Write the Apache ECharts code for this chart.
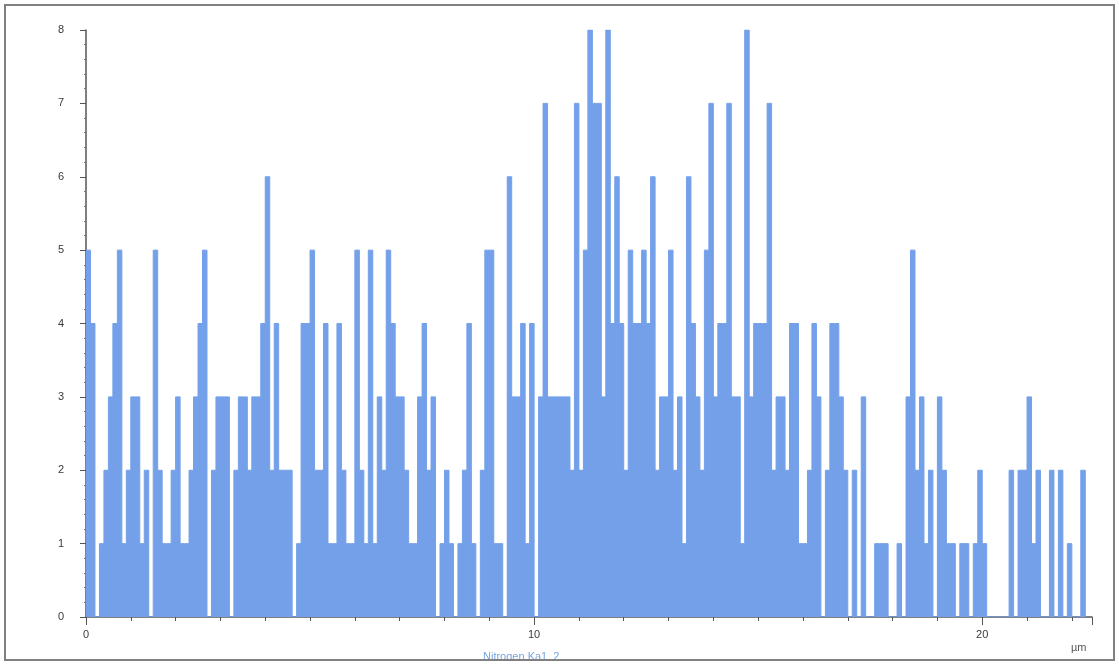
<!DOCTYPE html>
<html>
<head>
<meta charset="utf-8">
<script src="https://cdn.jsdelivr.net/npm/echarts@6/dist/echarts.min.js"></script>
<style>
  html, body { margin: 0; padding: 0; background: #ffffff; }
  #chart { width: 1119px; height: 664px; }
</style>
</head>
<body>
<div id="chart"></div>
<script>
// line scan counts, one per 0.1 µm bin starting at 0 µm
const binWidth = 0.1
const counts = [
  5, 4, 0, 1, 2, 3, 4, 5, 1, 2,
  3, 3, 1, 2, 0, 5, 2, 1, 1, 2,
  3, 1, 1, 2, 3, 4, 5, 0, 2, 3,
  3, 3, 0, 2, 3, 3, 2, 3, 3, 4,
  6, 2, 4, 2, 2, 2, 0, 1, 4, 4,
  5, 2, 2, 4, 1, 1, 4, 2, 1, 1,
  5, 2, 1, 5, 1, 3, 2, 5, 4, 3,
  3, 2, 1, 1, 3, 4, 2, 3, 0, 1,
  2, 1, 0, 1, 2, 4, 1, 0, 2, 5,
  5, 1, 1, 0, 6, 3, 3, 4, 1, 4,
  0, 3, 7, 3, 3, 3, 3, 3, 2, 7,
  2, 5, 8, 7, 7, 3, 8, 4, 6, 4,
  2, 5, 4, 4, 5, 4, 6, 2, 3, 3,
  5, 2, 3, 1, 6, 4, 3, 2, 5, 7,
  3, 4, 4, 7, 3, 3, 1, 8, 3, 4,
  4, 4, 7, 2, 3, 3, 2, 4, 4, 1,
  1, 2, 4, 3, 0, 2, 4, 4, 3, 2,
  0, 2, 0, 3, 0, 0, 1, 1, 1, 0,
  0, 1, 0, 3, 5, 2, 3, 1, 2, 0,
  3, 2, 1, 1, 0, 1, 1, 0, 1, 2,
  1, 0, 0, 0, 0, 0, 2, 0, 2, 2,
  3, 1, 2, 0, 0, 2, 0, 2, 0, 1,
  0, 0, 2
]
const yTicks = [0, 1, 2, 3, 4, 5, 6, 7, 8]
const xTickStep = 10
const xMax = 22.45
const unitLabel = 'µm'
const elementLabel = 'Nitrogen Ka1_2'

const seriesData = counts.map((v, i) => [+(i * binWidth).toFixed(2), v])
seriesData.push([+(counts.length * binWidth).toFixed(2), 0])

const fill = '#74a0ea'
const axisColor = '#555'
const labelFont = { color: '#3a3a3a', fontSize: 11, fontFamily: 'Liberation Sans, Arial, sans-serif' }

const chart = echarts.init(document.getElementById('chart'))
chart.setOption({
  animation: false,
  backgroundColor: '#ffffff',
  grid: { left: 86, right: 27, top: 30, bottom: 47, containLabel: false },
  xAxis: {
    type: 'value',
    min: 0,
    max: xMax,
    interval: xTickStep,
    axisLine: { show: true, lineStyle: { color: axisColor, width: 1.5 } },
    axisTick: { show: true, length: 8, lineStyle: { color: axisColor } },
    minorTick: { show: true, splitNumber: 10, length: 4, lineStyle: { color: axisColor } },
    splitLine: { show: false },
    axisLabel: Object.assign({ margin: 12, showMaxLabel: false }, labelFont)
  },
  yAxis: {
    type: 'value',
    min: yTicks[0],
    max: yTicks[yTicks.length - 1],
    interval: 1,
    axisLine: { show: true, lineStyle: { color: axisColor, width: 1.5 } },
    axisTick: { show: true, length: 6, lineStyle: { color: axisColor } },
    minorTick: { show: true, splitNumber: 5, length: 2, lineStyle: { color: '#777' } },
    splitLine: { show: false },
    axisLabel: Object.assign({ margin: 22 }, labelFont)
  },
  series: [
    {
      type: 'line',
      step: 'end',
      data: seriesData,
      showSymbol: false,
      symbol: 'none',
      lineStyle: { color: fill, width: 1 },
      areaStyle: { color: fill, opacity: 1 },
      silent: true
    }
  ],
  graphic: [
    {
      type: 'text',
      left: 1071,
      top: 642,
      style: { text: unitLabel, fill: '#555', font: '11px Liberation Sans, Arial, sans-serif' },
      z: 10
    },
    {
      type: 'text',
      left: 483,
      top: 651,
      style: { text: elementLabel, fill: '#7aa3e0', font: '11px Liberation Sans, Arial, sans-serif' },
      z: 10
    },
    {
      type: 'rect',
      shape: { x: 0, y: 661, width: 1119, height: 3 },
      style: { fill: '#ffffff' },
      z: 11
    },
    {
      type: 'rect',
      shape: { x: 5, y: 5, width: 1109, height: 655 },
      style: { fill: 'none', stroke: '#808080', lineWidth: 2 },
      z: 12
    }
  ]
})
</script>
</body>
</html>
